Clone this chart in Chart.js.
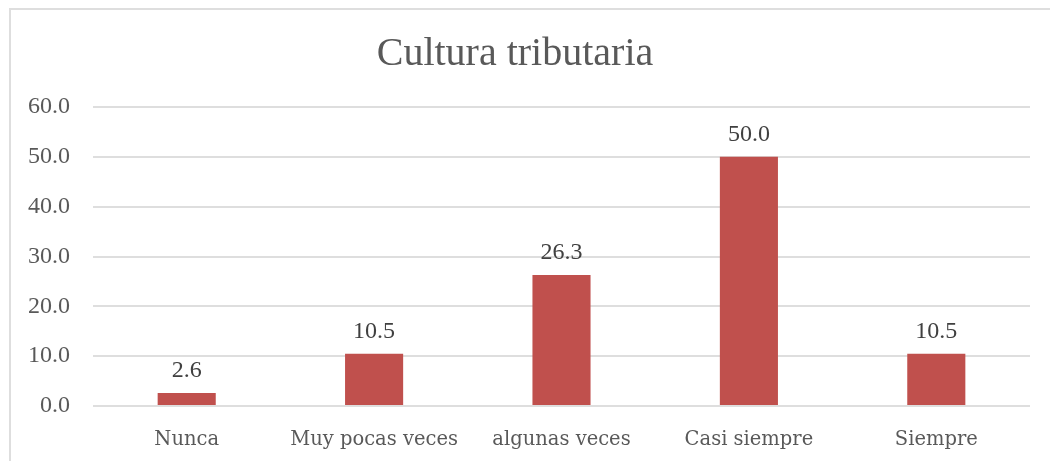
<!DOCTYPE html>
<html>
<head>
<meta charset="utf-8">
<script src="https://cdn.jsdelivr.net/npm/chart.js@4/dist/chart.umd.min.js"></script>
<style>
  html, body { margin: 0; padding: 0; background: #fff; }
  #wrap { width: 1050px; height: 461px; position: relative; }
</style>
</head>
<body>
<div id="wrap"><canvas id="grafico" width="1050" height="461"></canvas></div>
<script>
// datos del gráfico
var categorias = ["Nunca", "Muy pocas veces", "algunas veces", "Casi siempre", "Siempre"];
var porcentajes = [2.6, 10.5, 26.3, 50.0, 10.5];
var titulo = "Cultura tributaria";

var fuenteNum = "'Liberation Serif', serif";
var fuenteTxt = "'DejaVu Serif', serif";

// marco gris alrededor del gráfico
var marco = {
  id: "marco",
  beforeDraw: function(chart) {
    var ctx = chart.ctx;
    ctx.save();
    ctx.strokeStyle = "#dedede";
    ctx.lineWidth = 2;
    ctx.strokeRect(10, 9, 1200, 600);
    ctx.restore();
  }
};

// etiquetas de valor encima de cada barra
var etiquetas = {
  id: "etiquetas",
  afterDatasetsDraw: function(chart) {
    var ctx = chart.ctx;
    var meta = chart.getDatasetMeta(0);
    ctx.save();
    ctx.font = "24px " + fuenteNum;
    ctx.fillStyle = "#404040";
    ctx.textAlign = "center";
    ctx.textBaseline = "alphabetic";
    meta.data.forEach(function(barra, i) {
      ctx.fillText(porcentajes[i].toFixed(1), barra.x, barra.y - 16);
    });
    ctx.restore();
  }
};

new Chart(document.getElementById("grafico").getContext("2d"), {
  type: "bar",
  data: {
    labels: categorias,
    datasets: [{
      data: porcentajes,
      backgroundColor: "#C0504D",
      barPercentage: 0.31,
      categoryPercentage: 1
    }]
  },
  options: {
    responsive: false,
    animation: false,
    layout: { padding: { left: 0, right: 20, top: 0, bottom: 0 } },
    plugins: {
      legend: { display: false },
      tooltip: { enabled: false },
      title: {
        display: true,
        text: titulo,
        color: "#595959",
        font: { family: fuenteNum, size: 40, weight: "normal" },
        padding: { top: 30, bottom: 29 }
      }
    },
    scales: {
      x: {
        grid: { display: false },
        border: { display: false },
        ticks: {
          color: "#595959",
          font: { family: fuenteTxt, size: 19.5 },
          padding: 14,
          maxRotation: 0
        },
        afterFit: function(s) { s.height = 55; }
      },
      y: {
        min: 0,
        max: 60,
        ticks: {
          stepSize: 10,
          color: "#595959",
          font: { family: fuenteNum, size: 24 },
          padding: 23,
          callback: function(v) { return Number(v).toFixed(1); }
        },
        grid: { color: "#dedede", lineWidth: 2, drawTicks: false },
        border: { display: false },
        afterFit: function(s) { s.width = 93; }
      }
    }
  },
  plugins: [marco, etiquetas]
});
</script>
</body>
</html>
